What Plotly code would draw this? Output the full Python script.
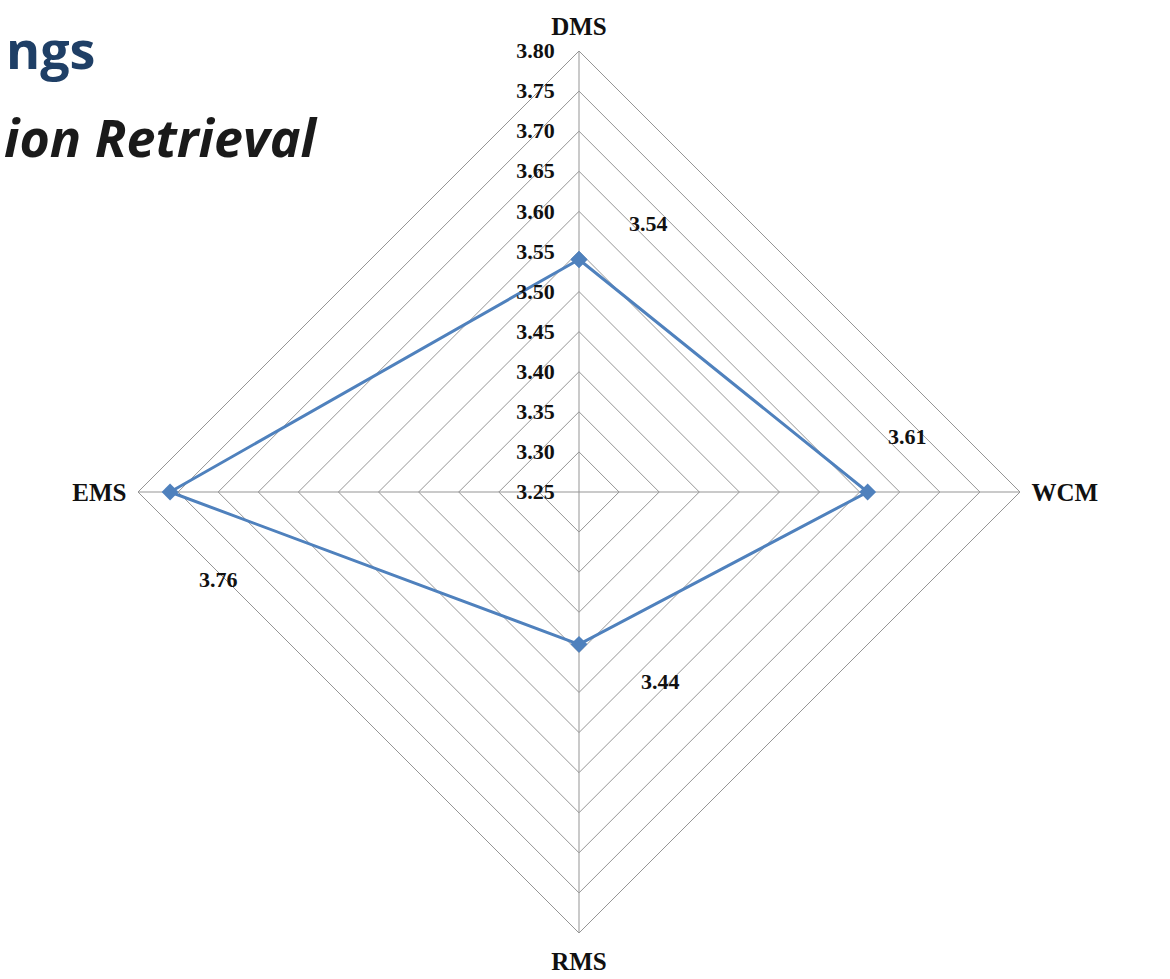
import math
import plotly.graph_objects as go

# Rating per retrieval method
methods = ["DMS", "WCM", "RMS", "EMS"]
scores = [3.54, 3.61, 3.44, 3.76]

# Radial scale
radial_ticks = [3.25, 3.30, 3.35, 3.40, 3.45, 3.50, 3.55, 3.60, 3.65, 3.70, 3.75, 3.80]

W, H = 1170, 979
cx, cy, R = 579, 492, 441

serif_bold = dict(family="Liberation Serif", size=22, color="#111111")

fig = go.Figure()
fig.add_trace(go.Scatterpolar(
    r=scores + scores[:1],
    theta=methods + methods[:1],
    mode="lines+markers",
    line=dict(color="#4F81BD", width=3),
    marker=dict(symbol="diamond", size=13, color="#4F81BD"),
    showlegend=False,
    hoverinfo="skip",
))

# value labels placed beside each vertex
label_offsets = {"DMS": (69, -36), "WCM": (40, -56), "RMS": (81, 37), "EMS": (48, 87)}
annotations = []
n = len(methods)
for i, (m, v) in enumerate(zip(methods, scores)):
    ang = math.pi / 2 - 2 * math.pi * i / n
    rr = (v - radial_ticks[0]) / (radial_ticks[-1] - radial_ticks[0]) * R
    px = cx + rr * math.cos(ang)
    py = cy - rr * math.sin(ang)
    dx, dy = label_offsets[m]
    annotations.append(dict(
        x=(px + dx) / W, y=1 - (py + dy) / H, xref="paper", yref="paper",
        text=f"<b>{v:.2f}</b>", showarrow=False, font=serif_bold,
        xanchor="center", yanchor="middle",
    ))

# slide heading fragments at the upper left
annotations.append(dict(
    x=4 / W, y=1 - 48 / H, xref="paper", yref="paper", text="<b>ngs</b>",
    showarrow=False, xanchor="left", yanchor="middle",
    font=dict(family="Open Sans", size=52, color="#1F3F66"),
))
annotations.append(dict(
    x=320 / W, y=1 - 137 / H, xref="paper", yref="paper", text="<b><i>ion Retrieval</i></b>",
    showarrow=False, xanchor="right", yanchor="middle",
    font=dict(family="Open Sans", size=52, color="#1A1A1A"),
))

fig.update_layout(
    width=W, height=H,
    margin=dict(l=0, r=0, t=0, b=0),
    paper_bgcolor="white",
    annotations=annotations,
    polar=dict(
        domain=dict(x=[(cx - R) / W, (cx + R) / W], y=[1 - (cy + R) / H, 1 - (cy - R) / H]),
        bgcolor="white",
        gridshape="linear",
        angularaxis=dict(
            rotation=90, direction="clockwise",
            categoryorder="array", categoryarray=methods,
            tickfont=dict(family="Liberation Serif", size=25, color="#111111"),
            tickvals=methods, ticktext=[f"<b>{m}</b>" for m in methods],
            ticks="outside", ticklen=6, tickcolor="rgba(0,0,0,0)",
            showline=True, linecolor="#959595", linewidth=1,
            gridcolor="#959595", gridwidth=1,
        ),
        radialaxis=dict(
            range=[radial_ticks[0], radial_ticks[-1]],
            angle=90, side="counterclockwise", tickangle=90,
            tickvals=radial_ticks, ticktext=[f"<b>{t:.2f}</b>" for t in radial_ticks],
            tickfont=serif_bold,
            ticks="outside", ticklen=16, tickcolor="rgba(0,0,0,0)",
            showline=False,
            gridcolor="#959595", gridwidth=1,
        ),
    ),
)

fig.write_html("out.html")
